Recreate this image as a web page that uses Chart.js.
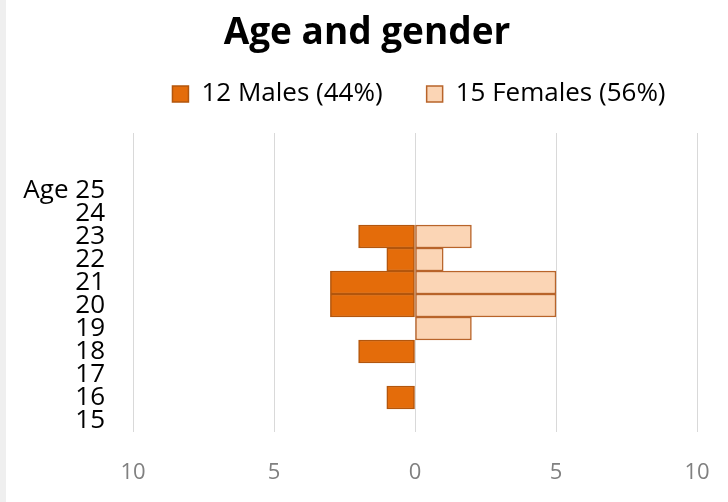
<!DOCTYPE html>
<html>
<head>
<meta charset="utf-8">
<script src="https://cdn.jsdelivr.net/npm/chart.js@4"></script>
<style>
  html, body { margin: 0; padding: 0; background: #fff; }
  body { width: 728px; height: 502px; overflow: hidden; }
  .wrap { position: absolute; left: 6px; top: 0; width: 722px; height: 502px; background: #fff; }
  .strip { position: absolute; left: 0; top: 0; width: 6px; height: 502px; background: #efefef; }
</style>
</head>
<body>
<div class="strip"></div>
<div class="wrap"><canvas id="chart" width="722" height="502"></canvas></div>
<script>
/* Age pyramid — bottom to top, two blank rows above "Age 25" */
var ageLabels = ['15', '16', '17', '18', '19', '20', '21', '22', '23', '24', 'Age 25', '', ''];
var males     = [0, -1, 0, -2, 0, -3, -3, -1, -2, 0, 0, 0, 0];
var females   = [0, 0, 0, 0, 2, 5, 5, 1, 2, 0, 0, 0, 0];
var seriesNames = ['12 Males (44%)', '15 Females (56%)'];
var xTicks = [-10, -5, 0, 5, 10];

var FONT = '"Open Sans", "Noto Sans", sans-serif';
var LEG_PAD = 44;

/* legend: fixed height below title, centred over the plot area like Excel */
var legendTweak = {
  id: 'legendTweak',
  afterInit: function (chart) {
    var lg = chart.legend;
    var fit = lg.fit, draw = lg.draw;
    lg.fit = function () { fit.call(this); this.height = 95; };
    lg.draw = function () {
      var ca = chart.chartArea;
      var lw = this.lineWidths[0];
      var cur = (this.left + LEG_PAD + this.right - lw) / 2;
      var want = (ca.left + ca.right) / 2 - (lw - LEG_PAD) / 2 + 4;
      var ctx = chart.ctx;
      ctx.save();
      ctx.translate(want - cur, -1);
      draw.apply(this, arguments);
      ctx.restore();
    };
  }
};

new Chart(document.getElementById('chart'), {
  type: 'bar',
  data: {
    labels: ageLabels,
    datasets: [
      { label: seriesNames[0], data: males,   backgroundColor: '#e46c0a', borderColor: '#b3560d', borderWidth: 1.5, borderSkipped: false, categoryPercentage: 1, barPercentage: 1 },
      { label: seriesNames[1], data: females, backgroundColor: '#fbd5b5', borderColor: '#b8642a', borderWidth: 1.5, borderSkipped: false, categoryPercentage: 1, barPercentage: 1 }
    ]
  },
  plugins: [legendTweak],
  options: {
    indexAxis: 'y',
    responsive: false,
    animation: false,
    layout: { padding: 0 },
    plugins: {
      title: { display: true, text: 'Age and gender', color: '#000', font: { family: FONT, size: 37, weight: 'bold' }, padding: { top: 11, bottom: -17.4 } },
      legend: {
        position: 'top',
        labels: { color: '#000', font: { family: FONT, size: 26 }, boxWidth: 16, boxHeight: 16, padding: LEG_PAD, useBorderRadius: false }
      },
      tooltip: { enabled: false }
    },
    scales: {
      x: {
        stacked: true, min: -10, max: 10,
        afterBuildTicks: function (s) { s.ticks = xTicks.map(function (v) { return { value: v }; }); },
        afterFit: function (s) { s.height = 70; s.paddingLeft = 0; s.paddingRight = 31; },
        grid: { color: '#d9d9d9', lineWidth: 1, drawTicks: false },
        border: { display: false },
        ticks: { color: '#808080', font: { family: FONT, size: 22 }, padding: 28, callback: function (v) { return Math.abs(v); } }
      },
      y: {
        stacked: true, reverse: true,
        afterFit: function (s) { s.width = 127; },
        grid: { display: false, drawTicks: false },
        border: { display: false },
        ticks: { color: '#000', font: { family: FONT, size: 26, lineHeight: 1 }, padding: 28, autoSkip: false }
      }
    }
  }
});
</script>
</body>
</html>
